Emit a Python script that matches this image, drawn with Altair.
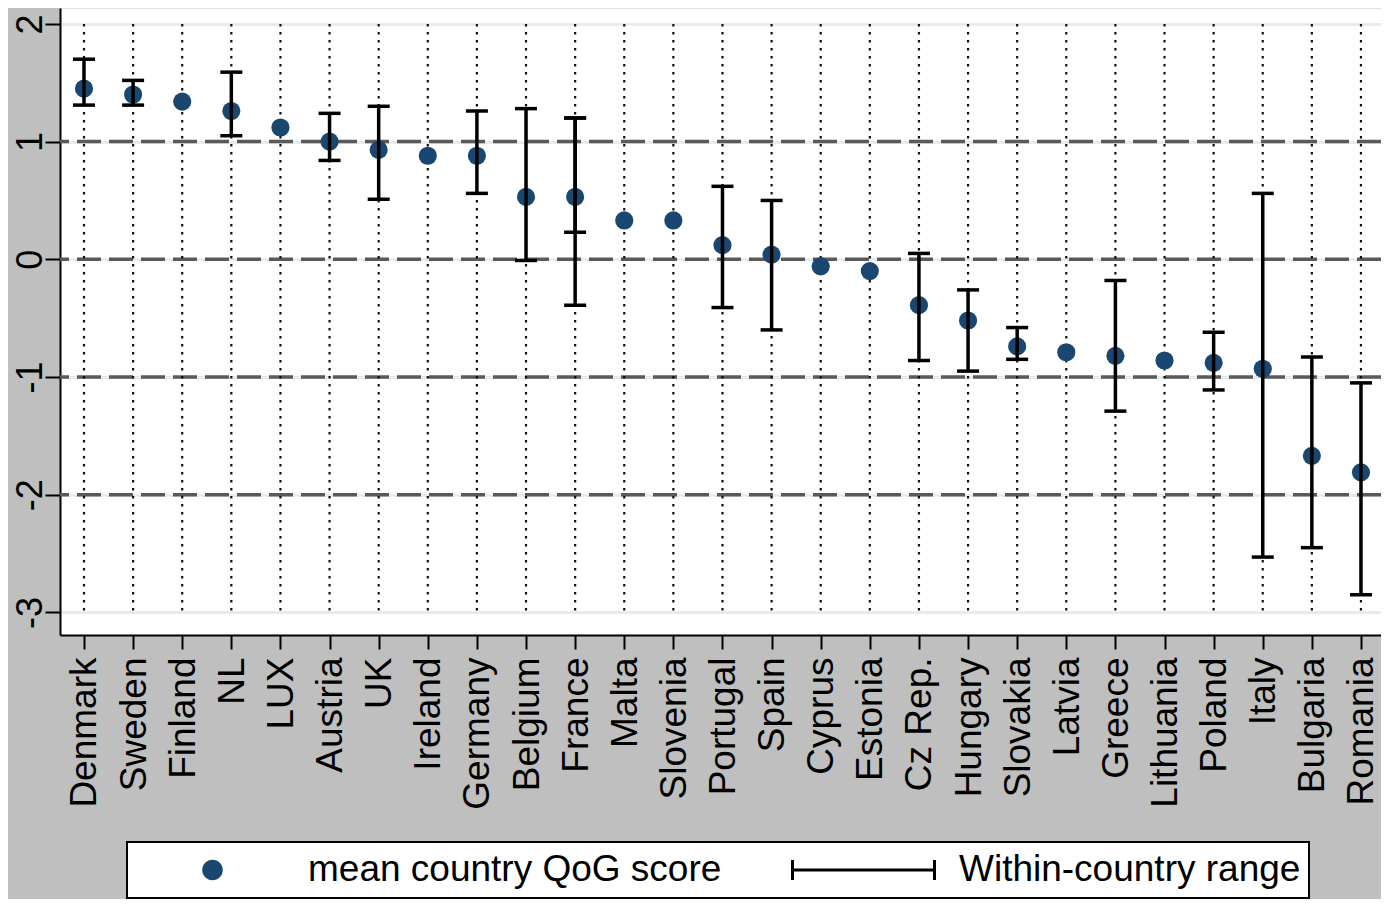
import altair as alt
import pandas as pd

# ---------------- data ----------------
countries = ["Denmark", "Sweden", "Finland", "NL", "LUX", "Austria", "UK", "Ireland",
             "Germany", "Belgium", "France", "Malta", "Slovenia", "Portugal", "Spain",
             "Cyprus", "Estonia", "Cz Rep.", "Hungary", "Slovakia", "Latvia", "Greece",
             "Lithuania", "Poland", "Italy", "Bulgaria", "Romania"]
qog_mean = [1.45, 1.40, 1.34, 1.26, 1.12, 1.00, 0.93, 0.88, 0.88, 0.53, 0.53, 0.33, 0.33,
            0.12, 0.04, -0.06, -0.10, -0.39, -0.52, -0.74, -0.79, -0.82, -0.86, -0.88,
            -0.93, -1.67, -1.81]
range_lo = [1.31, 1.31, None, 1.05, None, 0.84, 0.51, None, 0.56, -0.01, -0.39, None, None,
            -0.41, -0.60, None, None, -0.86, -0.95, -0.85, None, -1.29, None, -1.11,
            -2.53, -2.45, -2.85]
range_hi = [1.70, 1.52, None, 1.59, None, 1.24, 1.30, None, 1.26, 1.28, 1.20, None, None,
            0.62, 0.50, None, None, 0.05, -0.26, -0.58, None, -0.18, None, -0.62,
            0.56, -0.83, -1.05]
# second (overlapping) range drawn for France
extra_country = ["France"]
extra_lo = [0.23]
extra_hi = [1.20]

y_ticks = [2, 1, 0, -1, -2, -3]
ref_lines = [1, 0, -1, -2]
legend_keys = ["mean country QoG score", "Within-country range"]

# ---------------- styling ----------------
FONT = "Liberation Sans"
NAVY = "#1a476f"
BG = "#bfbfbf"

df = pd.DataFrame({"country": countries, "mean": qog_mean, "lo": range_lo, "hi": range_hi})
rng = df.dropna(subset=["lo"])[["country", "lo", "hi"]]
rng_all = pd.concat([rng, pd.DataFrame({"country": extra_country, "lo": extra_lo, "hi": extra_hi})],
                    ignore_index=True)
ref_df = pd.DataFrame({"ref": ref_lines})
legend_df = pd.DataFrame({"key": legend_keys, "country": [countries[0]] * 2, "v": [50, 50]})

x_axis = alt.Axis(labelAngle=270, labelAlign="right", labelBaseline="alphabetic",
                  labelOffset=12, labelPadding=8, labelFontSize=37, labelFont=FONT,
                  labelColor="black", labelOverlap=False, labelLimit=400,
                  tickSize=14, tickWidth=2, tickColor="black",
                  domainColor="black", domainWidth=2, grid=False)
y_axis = alt.Axis(values=y_ticks, labelAngle=270, labelAlign="center",
                  labelBaseline="alphabetic", labelFontSize=36, labelFont=FONT,
                  labelColor="black", labelPadding=4, labelExpr="datum.value + ''",
                  tickSize=15, tickWidth=2, tickColor="black",
                  domainColor="black", domainWidth=2,
                  grid=True, gridColor="#e3ecef", gridWidth=3)
y_scale = alt.Scale(domain=[-3.192, 2.135], nice=False, zero=False)
x_enc = alt.X("country:N", sort=countries,
              scale=alt.Scale(type="point", padding=0.448, align=0.545),
              axis=x_axis, title=None)


def Y(field):
    return alt.Y(field, scale=y_scale, axis=y_axis, title=None)


refs = alt.Chart(ref_df).mark_rule(strokeDash=[24, 8], color="#5a5a5a", strokeWidth=3.5).encode(
    y=Y("ref:Q"))

vlines = alt.Chart(df).mark_rule(strokeDash=[2.5, 5.5], color="#111111", strokeWidth=2.2).encode(
    x=x_enc,
    y=alt.YDatum(max(y_ticks), scale=y_scale, axis=y_axis, title=None),
    y2=alt.datum(min(y_ticks)))

points = alt.Chart(df).mark_circle(size=330, color=NAVY, opacity=1).encode(
    x=x_enc, y=Y("mean:Q"))

bars = alt.Chart(rng_all).mark_rule(strokeWidth=3.5, color="black").encode(
    x=x_enc, y=Y("lo:Q"), y2="hi:Q")
caps_lo = alt.Chart(rng_all).mark_tick(thickness=3.5, size=22, color="black", opacity=1).encode(
    x=x_enc, y=Y("lo:Q"))
caps_hi = alt.Chart(rng_all).mark_tick(thickness=3.5, size=22, color="black", opacity=1).encode(
    x=x_enc, y=Y("hi:Q"))

circle_path = "M -0.145,0 A 0.145,0.145 0 1,0 0.145,0 A 0.145,0.145 0 1,0 -0.145,0 Z"
range_path = "M -1,-0.14 L -1,0.14 M -1,0 L 1,0 M 1,-0.14 L 1,0.14"

leg = alt.Legend(title=None, orient="none", legendX=67, legendY=834, direction="horizontal",
                 labelFont=FONT, labelFontSize=37, labelColor="black", labelOffset=23,
                 labelLimit=1000, symbolOffset=5, symbolSize=20164, symbolStrokeWidth=3,
                 columnPadding=64, padding=8, clipHeight=40,
                 fillColor="white", strokeColor="black")

legend_layer = alt.Chart(legend_df).mark_point(filled=True, opacity=1, clip=True).encode(
    x=x_enc, y=Y("v:Q"),
    shape=alt.Shape("key:N", scale=alt.Scale(domain=legend_keys, range=[circle_path, range_path]),
                    legend=leg),
    fill=alt.Fill("key:N", scale=alt.Scale(domain=legend_keys, range=[NAVY, "transparent"]),
                  legend=leg),
    stroke=alt.Stroke("key:N", scale=alt.Scale(domain=legend_keys, range=["transparent", "black"]),
                      legend=leg),
)

chart = alt.layer(refs, vlines, points, bars, caps_lo, caps_hi, legend_layer).properties(
    width=1321, height=627,
    autosize=alt.AutoSizeParams(type="none"),
    padding={"left": 52, "top": 0, "right": 0, "bottom": 264},
).configure(background=BG).configure_view(fill="white", stroke="transparent").configure_legend(
    strokeWidth=2)

chart.save("out.html", embed_options={"renderer": "svg", "actions": False})
